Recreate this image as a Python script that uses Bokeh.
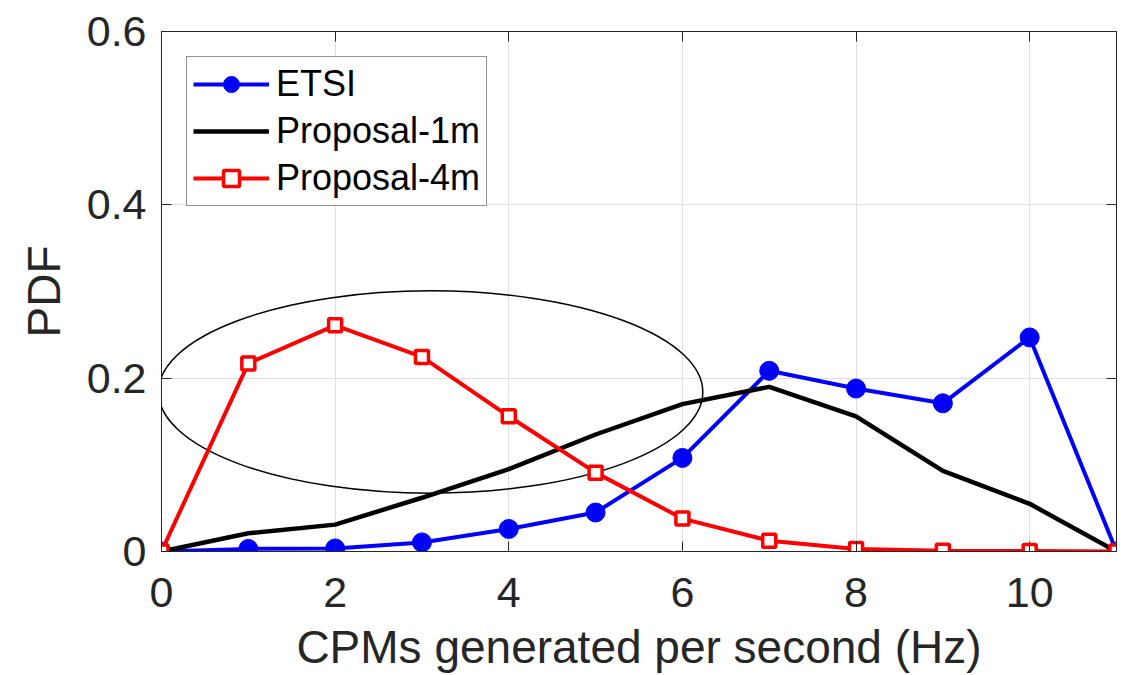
from bokeh.plotting import figure
from bokeh.models import LinearAxis, FixedTicker, Range1d, Legend, LegendItem
from bokeh.embed import file_html
from bokeh.resources import INLINE

x = [0, 1, 2, 3, 4, 5, 6, 7, 8, 9, 10, 11]
etsi = [0, 0.003, 0.0035, 0.0105, 0.026, 0.045, 0.108, 0.2085, 0.188, 0.171, 0.247, 0]
prop_1m = [0, 0.021, 0.031, 0.062, 0.095, 0.135, 0.170, 0.190, 0.156, 0.093, 0.055, 0]
prop_4m = [0, 0.217, 0.261, 0.2245, 0.156, 0.091, 0.038, 0.0125, 0.003, 0.001, 0.0005, 0]

x_ticks = [0, 2, 4, 6, 8, 10]
y_ticks = [0, 0.2, 0.4, 0.6]
y_tick_labels = ["0", "0.2", "0.4", "0.6"]

# highlight ellipse (data units)
ell_x, ell_y, ell_w, ell_h = 3.1, 0.184, 6.27, 0.2335

FONT = "Liberation Sans"
AX = "#262626"

p = figure(width=1134, height=675, output_backend="svg", toolbar_location=None,
           x_range=Range1d(0, 11), y_range=Range1d(0, 0.6),
           min_border_left=161, min_border_right=18, min_border_top=31, min_border_bottom=124)
p.background_fill_color = "white"
p.border_fill_color = "white"
p.outline_line_color = AX
p.outline_line_width = 1

def style_axis(ax, show_labels=True):
    ax.axis_line_color = AX
    ax.axis_line_width = 1
    ax.major_tick_line_color = AX
    ax.major_tick_line_width = 1
    ax.major_tick_in = 10
    ax.major_tick_out = 0
    ax.minor_tick_line_color = None
    ax.major_label_text_font = FONT
    ax.major_label_text_color = AX
    if show_labels:
        ax.major_label_text_font_size = "43px"
    else:
        ax.major_label_text_font_size = "0px"
        ax.major_label_standoff = 0

xa = p.xaxis[0]
ya = p.yaxis[0]
xa.ticker = FixedTicker(ticks=x_ticks)
ya.ticker = FixedTicker(ticks=y_ticks)
ya.major_label_overrides = {t: l for t, l in zip(y_ticks, y_tick_labels)}
style_axis(xa)
style_axis(ya)
xa.major_label_standoff = 26
ya.major_label_standoff = 15
xa.axis_label = "CPMs generated per second (Hz)"
ya.axis_label = "PDF"
for a in (xa, ya):
    a.axis_label_text_font = FONT
    a.axis_label_text_font_size = "46px"
    a.axis_label_text_font_style = "normal"
    a.axis_label_text_color = AX
xa.axis_label_standoff = 11
xa.axis_label_text_line_height = 1.0
ya.axis_label_standoff = 14

top = LinearAxis(ticker=FixedTicker(ticks=x_ticks))
right = LinearAxis(ticker=FixedTicker(ticks=y_ticks))
style_axis(top, False)
style_axis(right, False)
top.major_label_overrides = {t: "" for t in x_ticks}
right.major_label_overrides = {t: "" for t in y_ticks}
p.add_layout(top, "above")
p.add_layout(right, "right")

p.xgrid.ticker = FixedTicker(ticks=x_ticks)
p.ygrid.ticker = FixedTicker(ticks=y_ticks)
p.grid.grid_line_color = "#dfdfdf"
p.grid.grid_line_width = 1

p.ellipse(x=[ell_x], y=[ell_y], width=ell_w, height=ell_h, fill_color=None,
          line_color="black", line_width=1.5)

r_etsi_l = p.line(x, etsi, line_color="#0000ff", line_width=4)
r_etsi_m = p.scatter(x, etsi, marker="circle", size=19, fill_color="#0000ff", line_color="#0000ff")
r_1m = p.line(x, prop_1m, line_color="black", line_width=4.5)
r_4m_l = p.line(x, prop_4m, line_color="#ff0000", line_width=4)
r_4m_m = p.scatter(x, prop_4m, marker="square", size=13, fill_color="white",
                   line_color="#ff0000", line_width=3.5)

legend = Legend(items=[
    LegendItem(label="ETSI", renderers=[r_etsi_l, r_etsi_m]),
    LegendItem(label="Proposal-1m", renderers=[r_1m]),
    LegendItem(label="Proposal-4m", renderers=[r_4m_l, r_4m_m]),
], location="top_left")
legend.margin = 25
legend.padding = 6
legend.spacing = 5
legend.glyph_width = 76
legend.glyph_height = 40
legend.label_height = 40
legend.label_standoff = 7
legend.label_text_font = FONT
legend.label_text_font_size = "36px"
legend.label_text_color = "black"
legend.border_line_color = AX
legend.border_line_width = 1
legend.background_fill_color = "white"
legend.background_fill_alpha = 1
p.add_layout(legend, "center")

open("out.html", "w").write(file_html(p, INLINE))
